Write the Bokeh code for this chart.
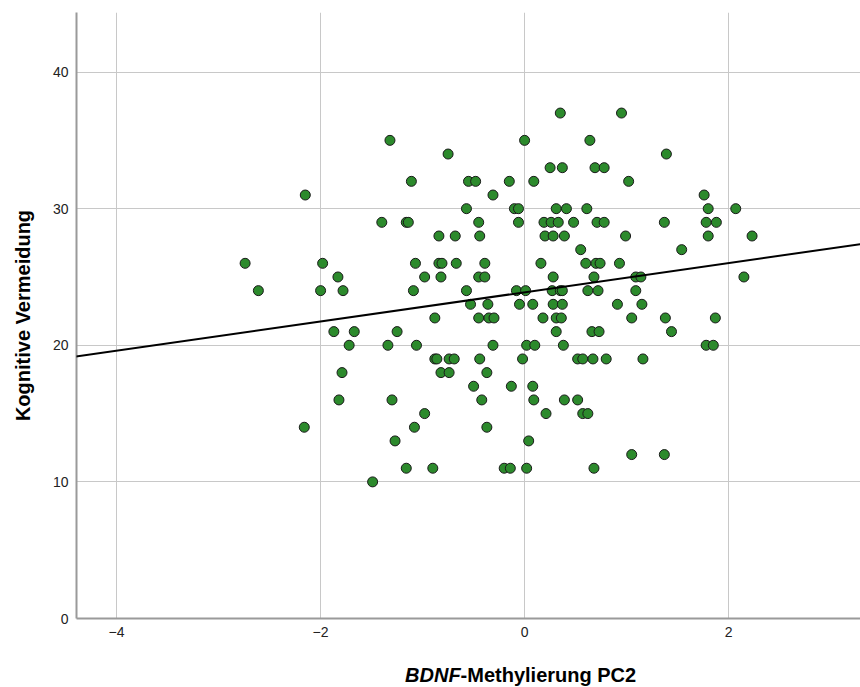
from bokeh.plotting import figure
from bokeh.models import FixedTicker, Slope, Label, Range1d
from bokeh.layouts import column
from bokeh.embed import file_html
from bokeh.resources import INLINE

# BDNF methylation PC2 (x) and cognitive avoidance score (y)
pc2 = [
    0.35, 0.95,
    -1.32, 0.00, 0.64,
    -0.75, 1.39,
    0.25, 0.37, 0.69, 0.78,
    -1.11, -0.55, -0.48, -0.15, 0.09, 1.02,
    -2.15, -0.31, 1.76,
    -0.57, -0.10, -0.06, 0.31, 0.41, 0.61, 1.80, 2.07,
    -1.40, -1.16, -1.14, -0.45, -0.06, 0.19, 0.26, 0.33, 0.48, 0.71, 0.78, 1.37, 1.78, 1.88,
    -0.84, -0.68, -0.44, 0.20, 0.28, 0.39, 0.99, 1.80, 2.23,
    0.55, 1.54,
    -2.74, -1.98, -1.07, -0.84, -0.81, -0.67, -0.39, 0.16, 0.60, 0.70, 0.74, 0.93,
    -1.83, -0.98, -0.82, -0.45, -0.39, 0.28, 0.68, 1.09, 1.14, 2.15,
    -2.61, -2.00, -1.78, -1.09, -0.57, -0.08, 0.01, 0.27, 0.35, 0.37, 0.62, 0.72, 1.09,
    -0.53, -0.36, -0.05, 0.08, 0.28, 0.37, 0.91, 1.15,
    -0.88, -0.45, -0.35, -0.30, 0.18, 0.31, 0.36, 1.05, 1.38, 1.87,
    -1.87, -1.67, -1.25, 0.31, 0.66, 0.73, 1.44,
    -1.72, -1.34, -1.06, -0.31, 0.02, 0.10, 0.38, 1.78, 1.85,
    -0.88, -0.86, -0.74, -0.69, -0.44, -0.02, 0.52, 0.57, 0.67, 0.80, 1.16,
    -1.79, -0.82, -0.74, -0.37,
    -0.50, -0.13, 0.08,
    -1.82, -1.30, -0.42, 0.09, 0.39, 0.52,
    -0.98, 0.21, 0.57, 0.62,
    -2.16, -1.08, -0.37,
    -1.27, 0.04,
    1.05, 1.37,
    -1.16, -0.90, -0.20, -0.14, 0.02, 0.68,
    -1.49,
]
kv = (
    [37] * 2 + [35] * 3 + [34] * 2 + [33] * 4 + [32] * 6 + [31] * 3 + [30] * 8
    + [29] * 14 + [28] * 9 + [27] * 2 + [26] * 12 + [25] * 10 + [24] * 13
    + [23] * 8 + [22] * 10 + [21] * 7 + [20] * 9 + [19] * 11 + [18] * 4
    + [17] * 3 + [16] * 6 + [15] * 4 + [14] * 3 + [13] * 2 + [12] * 2
    + [11] * 6 + [10] * 1
)

x_ticks = [-4, -2, 0, 2]
y_ticks = [0, 10, 20, 30, 40]
x_min, x_max = -4.393, 3.293
y_min, y_max = 0, 44.36

fit_intercept = 23.88
fit_slope = 1.07

x_title_italic = "BDNF"
x_title_rest = "-Methylierung PC2"
y_title = "Kognitive Vermeidung"

FONT = "Liberation Sans"

p = figure(width=860, height=647, output_backend="svg", toolbar_location=None,
           x_range=Range1d(x_min, x_max), y_range=Range1d(y_min, y_max),
           min_border_left=76, min_border_right=0, min_border_top=12,
           min_border_bottom=29)
p.outline_line_color = None
p.background_fill_color = "white"
p.border_fill_color = "white"

for ax in (p.xaxis[0], p.yaxis[0]):
    ax.axis_line_color = "#9a9a9a"
    ax.axis_line_width = 2
    ax.major_tick_out = 0
    ax.major_tick_in = 0
    ax.minor_tick_out = 0
    ax.minor_tick_in = 0
    ax.major_label_text_font = FONT
    ax.major_label_text_font_size = "14px"
    ax.major_label_text_color = "#222222"

p.xaxis.ticker = FixedTicker(ticks=x_ticks)
p.yaxis.ticker = FixedTicker(ticks=y_ticks)
p.xaxis.major_label_standoff = 8
p.yaxis.major_label_standoff = 8

p.yaxis.axis_label = y_title
p.yaxis.axis_label_text_font = FONT
p.yaxis.axis_label_text_font_size = "20px"
p.yaxis.axis_label_text_font_style = "bold"
p.yaxis.axis_label_text_color = "black"
p.yaxis.axis_label_standoff = 16

p.xgrid.ticker = FixedTicker(ticks=x_ticks)
p.ygrid.ticker = FixedTicker(ticks=y_ticks)
p.xgrid.grid_line_color = "#c8c8c8"
p.ygrid.grid_line_color = "#c8c8c8"
p.xgrid.grid_line_width = 1
p.ygrid.grid_line_width = 1

p.scatter(pc2, kv, size=10, fill_color="#2c8a2c", line_color="#1a1a1a",
          line_width=1)

p.add_layout(Slope(gradient=fit_slope, y_intercept=fit_intercept,
                   line_color="black", line_width=2))

# strip below the plot carrying the x-axis title (italic gene name)
t = figure(width=860, height=40, output_backend="svg", toolbar_location=None,
           x_range=p.x_range, y_range=Range1d(0, 1),
           x_axis_type=None, y_axis_type=None,
           min_border_left=76, min_border_right=0, min_border_top=0,
           min_border_bottom=0)
t.outline_line_color = None
t.xgrid.visible = False
t.ygrid.visible = False
t.background_fill_color = "white"
t.border_fill_color = "white"

title_y = 0.32
t.add_layout(Label(x=0, y=title_y, x_offset=-64, text=x_title_italic,
                   text_font=FONT, text_font_size="20px",
                   text_font_style="bold italic", text_align="right",
                   text_baseline="middle", text_color="black"))
t.add_layout(Label(x=0, y=title_y, x_offset=-64, text=x_title_rest,
                   text_font=FONT, text_font_size="20px",
                   text_font_style="bold", text_align="left",
                   text_baseline="middle", text_color="black"))

layout = column(p, t, spacing=0)
open("out.html", "w").write(file_html(layout, INLINE))
